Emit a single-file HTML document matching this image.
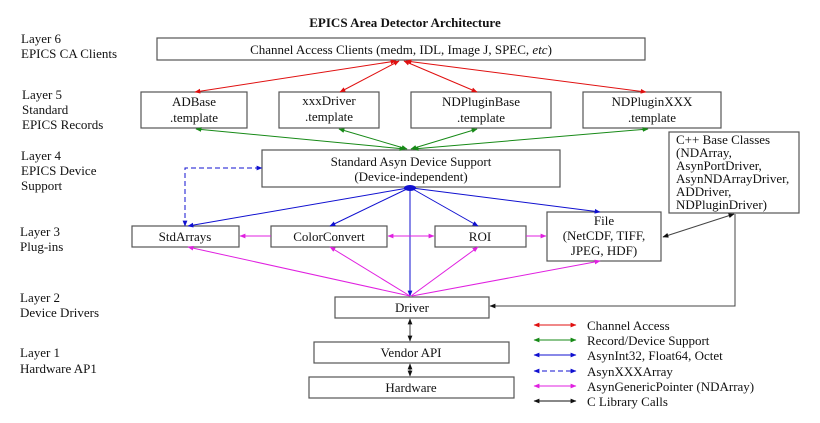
<!DOCTYPE html>
<html><head><meta charset="utf-8"><style>
html,body{margin:0;padding:0;background:#fff;}
svg text{font-family:"Liberation Serif",serif;font-size:13px;fill:#111;}
</style></head><body>
<svg width="820" height="418" viewBox="0 0 820 418" xmlns="http://www.w3.org/2000/svg">
<defs>
<marker id="r" viewBox="0 0 10 10" refX="9" refY="5" markerWidth="6" markerHeight="6" orient="auto-start-reverse"><path d="M0,1 L10,5 L0,9z" fill="#e01010"/></marker>
<marker id="g" viewBox="0 0 10 10" refX="9" refY="5" markerWidth="6" markerHeight="6" orient="auto-start-reverse"><path d="M0,1 L10,5 L0,9z" fill="#178a17"/></marker>
<marker id="b" viewBox="0 0 10 10" refX="9" refY="5" markerWidth="6" markerHeight="6" orient="auto-start-reverse"><path d="M0,1 L10,5 L0,9z" fill="#1010d0"/></marker>
<marker id="m" viewBox="0 0 10 10" refX="9" refY="5" markerWidth="6" markerHeight="6" orient="auto-start-reverse"><path d="M0,1 L10,5 L0,9z" fill="#e020e0"/></marker>
<marker id="k" viewBox="0 0 10 10" refX="9" refY="5" markerWidth="6" markerHeight="6" orient="auto-start-reverse"><path d="M0,1 L10,5 L0,9z" fill="#111"/></marker>
</defs>
<text x="405" y="27" text-anchor="middle" font-weight="bold" style="font-weight:bold">EPICS Area Detector Architecture</text>

<!-- layer labels -->
<text x="21" y="43">Layer 6</text><text x="21" y="58">EPICS CA Clients</text>
<text x="22" y="99">Layer 5</text><text x="22" y="114">Standard</text><text x="22" y="129">EPICS Records</text>
<text x="21" y="160">Layer 4</text><text x="21" y="175">EPICS Device</text><text x="21" y="190">Support</text>
<text x="20" y="236">Layer 3</text><text x="20" y="251">Plug-ins</text>
<text x="20" y="302">Layer 2</text><text x="20" y="317">Device Drivers</text>
<text x="20" y="357">Layer 1</text><text x="20" y="373">Hardware AP1</text>

<g fill="#fff" stroke="#555" stroke-width="1.2">
<rect x="157" y="38" width="488" height="22"/>
<rect x="141" y="92" width="106" height="36"/>
<rect x="279" y="92" width="100" height="36"/>
<rect x="411" y="92" width="140" height="36"/>
<rect x="583" y="92" width="138" height="36"/>
<rect x="669" y="132" width="130" height="81"/>
<rect x="262" y="150" width="298" height="37"/>
<rect x="132" y="226" width="107" height="21"/>
<rect x="271" y="226" width="116" height="21"/>
<rect x="435" y="226" width="91" height="21"/>
<rect x="547" y="212" width="114" height="49"/>
<rect x="335" y="297" width="154" height="21"/>
<rect x="314" y="342" width="195" height="21"/>
<rect x="309" y="377" width="205" height="21"/>
</g>

<text x="401" y="54" text-anchor="middle">Channel Access Clients (medm, IDL, Image J, SPEC, <tspan font-style="italic">etc</tspan>)</text>
<text x="194" y="106" text-anchor="middle">ADBase</text><text x="194" y="122" text-anchor="middle">.template</text>
<text x="329" y="105" text-anchor="middle">xxxDriver</text><text x="329" y="121" text-anchor="middle">.template</text>
<text x="481" y="106" text-anchor="middle">NDPluginBase</text><text x="481" y="122" text-anchor="middle">.template</text>
<text x="652" y="106" text-anchor="middle">NDPluginXXX</text><text x="652" y="122" text-anchor="middle">.template</text>
<text x="411" y="166" text-anchor="middle">Standard Asyn Device Support</text><text x="411" y="181" text-anchor="middle">(Device-independent)</text>
<g font-size="13"><text x="676" y="144">C++ Base Classes</text><text x="676" y="157">(NDArray,</text><text x="676" y="170">AsynPortDriver,</text><text x="676" y="183">AsynNDArrayDriver,</text><text x="676" y="196">ADDriver,</text><text x="676" y="209">NDPluginDriver)</text></g>
<text x="185" y="241" text-anchor="middle">StdArrays</text>
<text x="329" y="241" text-anchor="middle">ColorConvert</text>
<text x="480" y="241" text-anchor="middle">ROI</text>
<text x="604" y="225" text-anchor="middle">File</text><text x="604" y="240" text-anchor="middle">(NetCDF, TIFF,</text><text x="604" y="255" text-anchor="middle">JPEG, HDF)</text>
<text x="412" y="312" text-anchor="middle">Driver</text>
<text x="411" y="357" text-anchor="middle">Vendor API</text>
<text x="411" y="392" text-anchor="middle">Hardware</text>

<!-- red -->
<g stroke="#e01010" stroke-width="1" fill="none" marker-start="url(#r)" marker-end="url(#r)">
<line x1="396" y1="61" x2="195" y2="92"/>
<line x1="399" y1="61" x2="340" y2="92"/>
<line x1="404" y1="61" x2="477" y2="92"/>
<line x1="406" y1="61" x2="646" y2="92"/>
</g>
<!-- green -->
<g stroke="#178a17" stroke-width="1" fill="none" marker-start="url(#g)" marker-end="url(#g)">
<line x1="405" y1="149" x2="196" y2="129"/>
<line x1="407" y1="149" x2="339" y2="129"/>
<line x1="411" y1="149" x2="477" y2="129"/>
<line x1="413" y1="149" x2="648" y2="129"/>
</g>
<!-- blue -->
<ellipse cx="410" cy="188" rx="6" ry="3" fill="#1010d0"/>
<g stroke="#1010d0" stroke-width="1" fill="none" marker-end="url(#b)">
<line x1="408" y1="188" x2="188" y2="226"/>
<line x1="409" y1="188" x2="330" y2="226"/>
<line x1="411" y1="188" x2="478" y2="226"/>
<line x1="412" y1="188" x2="600" y2="212"/>
<line x1="410" y1="188" x2="410" y2="296"/>
<path d="M185,226 L185,168 L262,168" stroke-dasharray="5,3" marker-start="url(#b)"/>
</g>
<!-- magenta -->
<g stroke="#e020e0" stroke-width="1" fill="none" marker-end="url(#m)">
<line x1="410" y1="296" x2="188" y2="247"/>
<line x1="410" y1="296" x2="330" y2="247"/>
<line x1="411" y1="296" x2="478" y2="247"/>
<line x1="412" y1="296" x2="600" y2="261"/>
<line x1="271" y1="236" x2="240" y2="236"/>
<line x1="388" y1="236" x2="434" y2="236" marker-start="url(#m)"/>
<line x1="526" y1="236" x2="546" y2="236"/>
</g>
<!-- black -->
<g stroke="#444" stroke-width="1" fill="none">
<line x1="663" y1="237" x2="734" y2="214" marker-start="url(#k)" marker-end="url(#k)"/>
<path d="M735,214 L735,306 L490,306" marker-end="url(#k)"/>
<line x1="410" y1="319" x2="410" y2="341" marker-start="url(#k)" marker-end="url(#k)"/>
<line x1="410" y1="364" x2="410" y2="376" marker-start="url(#k)" marker-end="url(#k)"/>
</g>

<!-- legend -->
<g stroke-width="1" fill="none">
<line x1="534" y1="325" x2="576" y2="325" stroke="#e01010" marker-start="url(#r)" marker-end="url(#r)"/>
<line x1="534" y1="340" x2="576" y2="340" stroke="#178a17" marker-start="url(#g)" marker-end="url(#g)"/>
<line x1="534" y1="355" x2="576" y2="355" stroke="#1010d0" marker-start="url(#b)" marker-end="url(#b)"/>
<line x1="534" y1="371" x2="576" y2="371" stroke="#1010d0" stroke-dasharray="5,3" marker-start="url(#b)" marker-end="url(#b)"/>
<line x1="534" y1="386" x2="576" y2="386" stroke="#e020e0" marker-start="url(#m)" marker-end="url(#m)"/>
<line x1="534" y1="401" x2="576" y2="401" stroke="#111" marker-start="url(#k)" marker-end="url(#k)"/>
</g>
<text x="587" y="330">Channel Access</text>
<text x="587" y="345">Record/Device Support</text>
<text x="587" y="360">AsynInt32, Float64, Octet</text>
<text x="587" y="376">AsynXXXArray</text>
<text x="587" y="391">AsynGenericPointer (NDArray)</text>
<text x="587" y="406">C Library Calls</text>
</svg>
</body></html>
